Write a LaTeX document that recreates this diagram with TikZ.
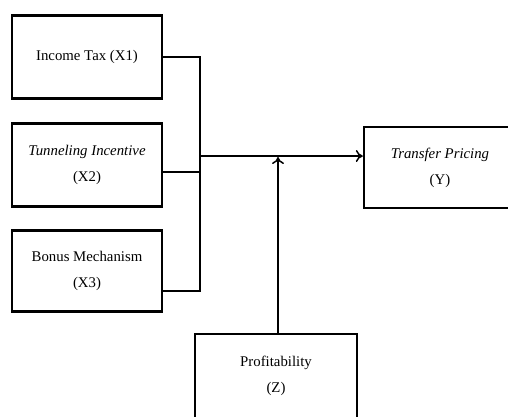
\documentclass[tikz,border=0pt]{standalone}
\usepackage{fontspec}
\setmainfont{Liberation Serif}
\usetikzlibrary{calc,arrows.meta}
\tikzset{
	varbox/.style={draw, line width=2.4pt, minimum width=150pt, minimum height=83pt, align=center, inner sep=0pt, font=\fontsize{14.8}{26}\selectfont},
	link/.style={line width=1.5pt}
}

\begin{document}
\begin{tikzpicture}[x=1pt, y=-1pt]
			%%%%% START %%%%%
			\useasboundingbox (0, 0) rectangle (508, 416);
			\clip (0, 0) rectangle (508, 416);
			
			\node[varbox] (x1) at (87, 57) {Income Tax (X1)};
			\node[varbox] (x2) at (87, 165) {\textit{Tunneling Incentive}\\(X2)};
			\node[varbox, minimum height=81pt] (x3) at (87, 271) {Bonus Mechanism\\(X3)};
			
			\node[varbox, minimum width=152pt, minimum height=81pt] (y) at (440, 167.5) {\textit{Transfer Pricing}\\(Y)};
			\node[varbox, minimum width=162pt, minimum height=84pt] (z) at (276, 376) {Profitability\\(Z)};
			
			\coordinate (bus) at (200, 156);
			\coordinate (b1) at (200, 57);
			\coordinate (b2) at (200, 172);
			\coordinate (b3) at (200, 291);
			\coordinate (hit) at (278, 157);
			
			\draw[link] (x1.east) -- (b1) -- (b3) -- (x3.east |- b3);
			\draw[link] (x2.east |- b2) -- (b2);
			\draw[link, -{To[length=7pt, width=12pt]}] (bus) -- (y.west |- bus);
			\draw[link, -{To[length=7pt, width=12pt]}] (z.north -| hit) -- (hit);
			
			%%%%% END %%%%%
\end{tikzpicture}
\end{document}
